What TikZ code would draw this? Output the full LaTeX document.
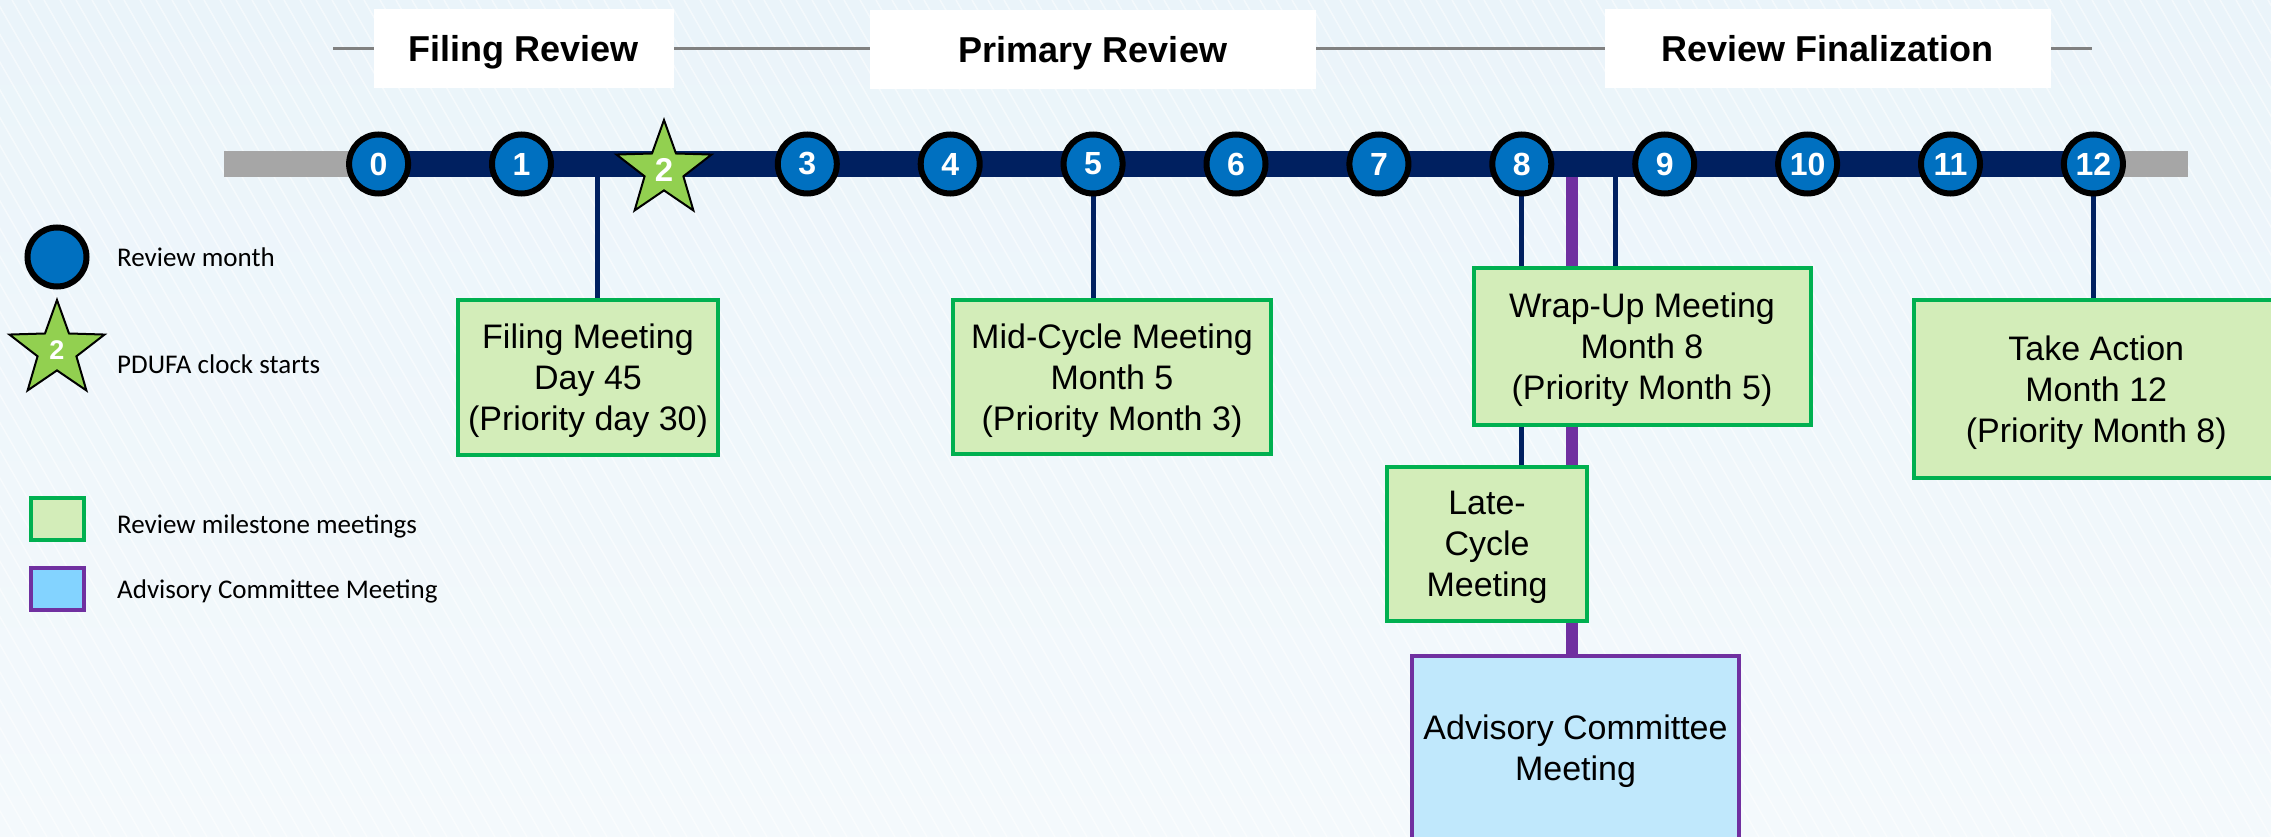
\documentclass[tikz,border=0pt]{standalone}
\usepackage{fontspec}
\setmainfont{Liberation Sans}
\newfontfamily\legendfont{Carlito}
\usetikzlibrary{shapes.geometric}
\pgfdeclarelayer{back}
\pgfdeclarelayer{bg}
\pgfsetlayers{back,bg,main}

\definecolor{navy}{HTML}{002060}
\definecolor{mblue}{HTML}{0070C0}
\definecolor{bargray}{HTML}{A6A6A6}
\definecolor{linegray}{HTML}{808080}
\definecolor{gborder}{HTML}{00B050}
\definecolor{gfill}{HTML}{D3EDB9}
\definecolor{purp}{HTML}{7030A0}
\definecolor{advfill}{HTML}{C0E8FC}
\definecolor{legblue}{HTML}{83D3FF}
\definecolor{stargreen}{HTML}{92D050}
\definecolor{bgtop}{HTML}{EAF4FA}
\definecolor{bgbot}{HTML}{F4F9FC}

\begin{document}
\begin{tikzpicture}[x=1pt,y=-1pt,
  hdr/.style={fill=white, inner sep=0pt, text height=26pt, text depth=0pt,
    font=\fontsize{36}{43}\selectfont\bfseries},
  month/.style={circle, fill=mblue, draw=black, line width=6pt, minimum size=59pt,
    inner sep=0pt, text=white, font=\fontsize{32}{32}\selectfont\bfseries},
  clockstar/.style={star, star points=5, star point ratio=2.45, minimum size=100pt,
    inner sep=0pt, fill=stargreen, draw=black, line width=2pt, text=white},
  mbox/.style={draw=gborder, fill=gfill, line width=4pt, align=center, inner sep=0pt,
    text depth=0pt, font=\fontsize{34}{41}\selectfont},
  advbox/.style={draw=purp, fill=advfill, line width=4pt, align=center, inner sep=0pt,
    text depth=0pt, font=\fontsize{34}{41}\selectfont},
  legtext/.style={anchor=base west, inner sep=0pt, font=\legendfont\fontsize{27}{32}\selectfont},
  conn/.style={draw=navy, line width=5pt},
  advconn/.style={draw=purp, line width=12pt},
  barline/.style={line width=26pt},
  hdrline/.style={draw=linegray, line width=3pt}]

\useasboundingbox (0,0) rectangle (2271,837);
\clip (0,0) rectangle (2271,837);

% soft striped backdrop
\begin{pgfonlayer}{back}
  \fill[top color=bgtop, bottom color=bgbot] (0,0) rectangle (2271,837);
  \foreach \x in {-500,-484,...,2271}
    \draw[white, opacity=0.5, line width=1.5pt] (\x,0) -- ++(483,837);
\end{pgfonlayer}

% phase headings on a thin rule
\coordinate (ruleL) at (333,49);
\coordinate (ruleR) at (2092,49);
\draw[hdrline] (ruleL) -- (ruleR);
\node[hdr, minimum width=300pt, minimum height=79pt] (hfile)  at (523.5,49) {Filing Review};
\node[hdr, minimum width=446pt, minimum height=79pt] (hprim)  at (1093,50)  {Primary Review};
\node[hdr, minimum width=446pt, minimum height=79pt] (hfinal) at (1827.75,49) {Review Finalization};

% month markers
\foreach \i in {0,1,3,4,5,6,7,8,9,10,11,12}
  \node[month] (m\i) at ({378.6+142.9*\i},164) {\i};
\node[clockstar, font=\fontsize{33}{33}\selectfont\bfseries] (m2) at (664,170) {2};

% milestone boxes
\node[mbox, minimum width=260pt, minimum height=155pt] (filing) at (588,377.5)
  {Filing Meeting\\Day 45\\(Priority day 30)};
\node[mbox, minimum width=317.5pt, minimum height=154pt] (mid) at (1112,377)
  {Mid-Cycle Meeting\\Month 5\\(Priority Month 3)};
\node[mbox, minimum width=337pt, minimum height=157pt] (wrap) at (1642,346.5)
  {Wrap-Up Meeting\\Month 8\\(Priority Month 5)};
\node[mbox, minimum width=200pt, minimum height=154pt] (late) at (1487,544)
  {Late-\\Cycle\\Meeting};
\node[advbox, minimum width=327pt, minimum height=183.5pt] (adv) at (1575.5,747.25)
  {Advisory Committee\\Meeting};
\node[mbox, minimum width=365.5pt, minimum height=178pt] (take) at (2096.25,389)
  {Take Action\\Month 12\\(Priority Month 8)};

% connectors and the timeline bar, beneath the markers and boxes
\coordinate (fj) at (597,164);
\coordinate (aj) at (1572,164);
\coordinate (wj) at (1615,164);
\coordinate (barL) at (224,164);
\coordinate (barR) at (2188,164);
\begin{pgfonlayer}{bg}
  \draw[conn] (fj) -- (fj |- filing.north);
  \draw[conn] (m5) -- (m5 |- mid.north);
  \draw[conn] (m8) -- (m8 |- late.north);
  \draw[conn] (wj) -- (wj |- wrap.north);
  \draw[advconn] (aj) -- (aj |- adv.north);
  \draw[conn] (m12) -- (m12 |- take.north);
  \draw[barline, bargray] (barL) -- (barR);
  \draw[barline, navy] (m0.center) -- (m12.center);
\end{pgfonlayer}

% legend
\node[month] (lcirc) at (57,257) {};
\node[legtext] (lcirctxt) at (117,267) {Review month};
\node[clockstar, font=\fontsize{27}{27}\selectfont\bfseries] (lstar) at (57,350) {2};
\node[legtext] (lstartxt) at (117,373) {PDUFA clock starts};
\node[draw=gborder, fill=gfill, line width=4pt, minimum width=53pt, minimum height=42pt, inner sep=0pt] (lgreen) at (57.5,519) {};
\node[legtext] (lgreentxt) at (117,533) {Review milestone meetings};
\node[draw=purp, fill=legblue, line width=4pt, minimum width=53pt, minimum height=42pt, inner sep=0pt] (lpurp) at (57.5,589) {};
\node[legtext] (lpurptxt) at (117,598) {Advisory Committee Meeting};

\end{tikzpicture}
\end{document}
